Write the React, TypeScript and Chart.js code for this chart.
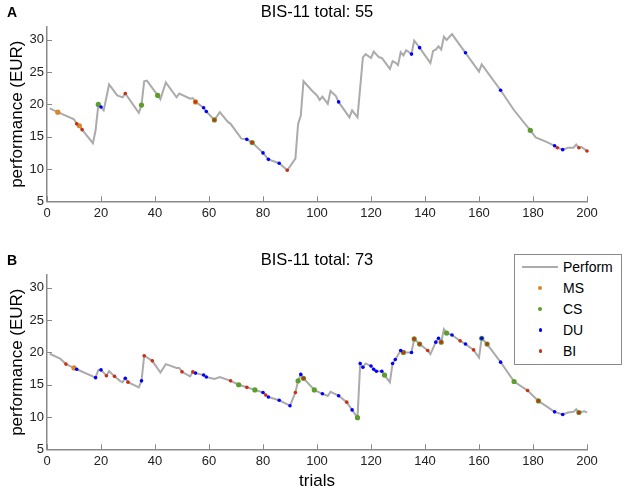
import { useEffect, useRef } from "react";
import Chart from "chart.js/auto";

const FONT = '"Liberation Sans", Arial, Helvetica, sans-serif';
Chart.defaults.font.family = FONT;
Chart.defaults.color = "#222";

// axes
const xTicks = [0, 20, 40, 60, 80, 100, 120, 140, 160, 180, 200];
const yTicks = [5, 10, 15, 20, 25, 30];

// series meta
const seriesNames = ["Perform", "MS", "CS", "DU", "BI"];
const seriesColors = ["#ababab", "#dc862c", "#5c9e2e", "#0000ff", "#cc2e12"];

// ---- panel A (BIS-11 total: 55)
const perfTrialsA = [1, 4, 10, 11, 12, 13, 17, 18, 19, 20, 21, 23, 26, 28, 29, 34, 35, 36, 37, 41, 42, 44, 48, 49, 53, 54, 55, 58, 59, 62, 64, 67, 68, 72, 74, 76, 80, 82, 86, 89, 92, 93, 94, 95, 98, 100, 101, 102, 104, 105, 107, 108, 112, 113, 115, 117, 118, 120, 121, 123, 124, 127, 128, 129, 130, 131, 132, 133, 135, 136, 138, 142, 143, 144, 145, 146, 147, 148, 150, 155, 160, 161, 168, 173, 179, 181, 185, 188, 189, 191, 193, 195, 196, 197, 198, 200];
const perfValuesA = [19.4, 18.8, 17.7, 17.0, 16.7, 16.1, 14.0, 16.0, 19.9, 19.6, 19.1, 23.1, 21.4, 21.1, 21.7, 18.7, 19.9, 23.6, 23.7, 21.4, 20.8, 23.4, 21.1, 21.7, 20.9, 21.0, 20.4, 19.5, 18.9, 17.6, 18.8, 17.3, 17.0, 14.7, 14.6, 14.1, 12.5, 11.5, 10.9, 9.8, 11.6, 17.0, 18.3, 23.6, 22.2, 21.4, 20.7, 21.2, 20.1, 22.1, 21.3, 20.4, 18.0, 19.1, 18.0, 27.3, 27.8, 27.2, 28.2, 27.3, 27.2, 25.5, 26.7, 26.5, 26.1, 28.1, 27.6, 28.4, 27.8, 29.9, 28.8, 26.4, 28.3, 28.5, 29.0, 28.5, 30.5, 30.0, 30.9, 28.0, 25.1, 26.2, 22.2, 19.1, 16.0, 14.9, 14.2, 13.6, 13.3, 13.0, 13.3, 13.3, 13.8, 13.3, 13.4, 12.8];
const msTrialsA = [4, 12, 55];
const msValuesA = [18.8, 16.7, 20.4];
const csTrialsA = [19, 35, 41, 62, 76, 179];
const csValuesA = [20.0, 19.9, 21.4, 17.6, 14.1, 16.0];
const duTrialsA = [20, 58, 59, 74, 80, 82, 86, 108, 135, 138, 155, 168, 188, 191];
const duValuesA = [19.6, 19.5, 18.9, 14.6, 12.5, 11.5, 10.9, 20.4, 27.8, 28.8, 28.0, 22.2, 13.6, 13.0];
const biTrialsA = [11, 13, 29, 55, 62, 76, 89, 189, 197, 200];
const biValuesA = [17.0, 16.1, 21.7, 20.4, 17.6, 14.1, 9.8, 13.3, 13.3, 12.8];

// ---- panel B (BIS-11 total: 73)
const perfTrialsB = [1, 5, 7, 10, 11, 18, 19, 20, 22, 23, 25, 27, 28, 29, 30, 34, 35, 36, 39, 42, 44, 48, 49, 50, 53, 54, 55, 58, 59, 62, 64, 68, 71, 74, 77, 80, 81, 82, 86, 90, 92, 93, 94, 95, 99, 102, 104, 105, 108, 111, 113, 115, 116, 117, 118, 120, 121, 122, 124, 125, 127, 128, 129, 131, 132, 135, 136, 138, 141, 142, 144, 145, 146, 147, 148, 150, 153, 155, 158, 160, 161, 163, 168, 173, 178, 182, 188, 191, 193, 195, 196, 197, 199, 200];
const perfValuesB = [19.8, 19.0, 18.2, 17.6, 17.4, 16.1, 17.3, 17.3, 16.4, 17.1, 16.3, 15.6, 15.4, 16.0, 15.4, 14.6, 15.6, 19.5, 18.7, 16.9, 18.2, 17.6, 17.6, 17.0, 16.3, 17.0, 16.8, 16.5, 16.2, 15.9, 16.2, 15.6, 15.0, 14.6, 14.2, 13.8, 13.4, 13.1, 12.6, 11.75, 13.8, 15.6, 16.6, 16.0, 14.2, 13.6, 13.25, 13.9, 13.3, 12.3, 11.1, 9.9, 18.3, 17.7, 18.3, 17.9, 17.4, 17.1, 17.1, 16.5, 15.4, 18.3, 18.9, 20.3, 20.0, 20.0, 22.1, 21.3, 20.3, 19.75, 21.6, 22.2, 21.6, 23.6, 23.0, 22.7, 21.8, 21.3, 20.4, 19.2, 22.2, 21.3, 18.5, 15.5, 14.1, 12.5, 10.8, 10.4, 10.7, 10.8, 11.2, 10.7, 10.9, 10.7];
const msTrialsB = [10];
const msValuesB = [17.6];
const csTrialsB = [71, 77, 93, 95, 99, 115, 125, 132, 136, 138, 146, 148, 161, 163, 173, 182, 197];
const csValuesB = [15.0, 14.2, 15.6, 16.0, 14.2, 9.9, 16.5, 20.0, 22.1, 21.3, 21.6, 23.0, 22.2, 21.3, 15.5, 12.5, 10.7];
const duTrialsB = [11, 18, 20, 29, 35, 55, 58, 59, 80, 82, 86, 90, 94, 102, 108, 113, 116, 117, 120, 121, 122, 124, 128, 129, 131, 135, 144, 145, 150, 155, 161, 168, 188, 191];
const duValuesB = [17.4, 16.1, 17.3, 16.0, 15.6, 16.8, 16.5, 16.2, 13.8, 13.1, 12.6, 11.75, 16.6, 13.6, 13.3, 11.1, 18.3, 17.7, 17.9, 17.4, 17.1, 17.1, 18.3, 18.9, 20.3, 20.0, 21.6, 22.2, 22.7, 21.3, 22.2, 18.5, 10.8, 10.4];
const biTrialsB = [7, 22, 25, 30, 36, 39, 50, 54, 68, 74, 81, 92, 95, 111, 132, 136, 138, 141, 146, 153, 158, 163, 178, 182, 197];
const biValuesB = [18.2, 16.4, 16.3, 15.4, 19.5, 18.7, 17.0, 17.0, 15.6, 14.6, 13.4, 13.8, 16.0, 12.3, 20.0, 22.1, 21.3, 20.3, 21.6, 21.8, 20.4, 21.3, 14.1, 12.5, 10.7];

const AXIS = "#8a8a8a";
const pts = (xs: number[], ys: number[]) => xs.map((x, i) => ({ x, y: ys[i] }));

// inward tick marks + panel letter + title
const panelDecor = {
  id: "panelDecor",
  afterDraw(chart: any, _args: any, opts: any) {
    const { ctx, chartArea: a, scales } = chart;
    const x = scales.x, y = scales.y;
    ctx.save();
    ctx.strokeStyle = AXIS;
    ctx.lineWidth = 1;
    ctx.beginPath();
    x.ticks.forEach((t: any) => {
      const px = Math.round(x.getPixelForValue(t.value)) + 0.5;
      ctx.moveTo(px, a.bottom);
      ctx.lineTo(px, a.bottom - 5);
    });
    y.ticks.forEach((t: any) => {
      const py = Math.round(y.getPixelForValue(t.value)) + 0.5;
      ctx.moveTo(a.left, py);
      ctx.lineTo(a.left + 5, py);
    });
    ctx.stroke();
    ctx.fillStyle = "#000";
    ctx.textBaseline = "alphabetic";
    ctx.textAlign = "left";
    ctx.font = `bold 14px ${FONT}`;
    ctx.fillText(opts.letter, 7, opts.baseline);
    ctx.textAlign = "center";
    ctx.font = `16.5px ${FONT}`;
    ctx.fillText(opts.title, (a.left + a.right) / 2, opts.baseline);
    ctx.restore();
  },
};

type Series = { x: number[]; y: number[] }[];

function Panel({ letter, title, series, top, height, areaTop, xAxisH, showXTitle }: {
  letter: string; title: string; series: Series; top: number; height: number;
  areaTop: number; xAxisH: number; showXTitle: boolean;
}) {
  const ref = useRef<HTMLCanvasElement>(null);

  useEffect(() => {
    if (!ref.current) return;
    const radii = [0, 2.6, 2.6, 1.8, 1.8];
    const datasets: any[] = series.map((s, i) => ({
      label: seriesNames[i],
      data: pts(s.x, s.y),
      borderColor: seriesColors[i],
      backgroundColor: seriesColors[i],
      borderWidth: i === 0 ? 2 : 0,
      showLine: i === 0,
      pointRadius: radii[i],
      pointBorderWidth: 0,
      pointBackgroundColor: seriesColors[i],
      tension: 0,
      order: 5 - i,
      clip: false,
    }));

    const chart = new Chart(ref.current, {
      type: "line",
      data: { datasets },
      options: {
        animation: false,
        responsive: false,
        events: [],
        layout: { padding: { left: 0, top: areaTop, right: 37, bottom: 0 } },
        plugins: {
          legend: { display: false },
          tooltip: { enabled: false },
          panelDecor: { letter, title, baseline: areaTop - 10.5 },
        } as any,
        scales: {
          x: {
            type: "linear",
            min: 0,
            max: 200,
            afterBuildTicks: (s: any) => { s.ticks = xTicks.map((v) => ({ value: v })); },
            afterFit: (s: any) => { s.height = xAxisH; },
            ticks: { padding: 4, font: { size: 13 }, color: "#222", maxRotation: 0, autoSkip: false },
            grid: { display: false, drawTicks: false },
            border: { display: true, color: AXIS, width: 1.5 },
            title: {
              display: showXTitle,
              text: "trials",
              font: { size: 17, lineHeight: 1 },
              color: "#000",
              padding: 0,
            },
          },
          y: {
            type: "linear",
            min: 5,
            max: 32,
            afterBuildTicks: (s: any) => { s.ticks = yTicks.map((v) => ({ value: v })); },
            afterFit: (s: any) => { s.width = 47; },
            ticks: { padding: 3, font: { size: 13 }, color: "#222" },
            grid: { display: false, drawTicks: false },
            border: { display: true, color: AXIS, width: 1.5 },
            title: {
              display: true,
              text: "performance (EUR)",
              font: { size: 17 },
              color: "#000",
              padding: { top: 7, bottom: 0 },
            },
          },
        },
      },
      plugins: [panelDecor],
    });
    return () => chart.destroy();
  }, []);

  return (
    <canvas
      ref={ref}
      width={624}
      height={height}
      style={{ position: "absolute", left: 0, top, display: "block" }}
    />
  );
}

function Legend() {
  const rowCenters = [12, 33, 54, 75, 96];
  const dotSize = [0, 4, 4, 3.5, 3.5];
  return (
    <div
      style={{
        position: "absolute", left: 514, top: 254, width: 106, height: 109,
        border: `1px solid ${AXIS}`, background: "#fff", fontFamily: FONT, fontSize: 14, color: "#000",
      }}
    >
      {seriesNames.map((name, i) => (
        <div key={name} style={{ position: "absolute", left: 0, top: rowCenters[i] - 10, width: 106, height: 20 }}>
          {i === 0 ? (
            <div style={{ position: "absolute", left: 7, top: 9, width: 36, height: 0, borderTop: `2px solid ${seriesColors[0]}` }} />
          ) : (
            <div
              style={{
                position: "absolute", left: 25.3 - dotSize[i] / 2, top: 10 - dotSize[i] / 2,
                width: dotSize[i], height: dotSize[i], borderRadius: "50%", background: seriesColors[i],
              }}
            />
          )}
          <div style={{ position: "absolute", left: 48, top: 0, lineHeight: "20px" }}>{name}</div>
        </div>
      ))}
    </div>
  );
}

export default function App() {
  const seriesA: Series = [
    { x: perfTrialsA, y: perfValuesA },
    { x: msTrialsA, y: msValuesA },
    { x: csTrialsA, y: csValuesA },
    { x: duTrialsA, y: duValuesA },
    { x: biTrialsA, y: biValuesA },
  ];
  const seriesB: Series = [
    { x: perfTrialsB, y: perfValuesB },
    { x: msTrialsB, y: msValuesB },
    { x: csTrialsB, y: csValuesB },
    { x: duTrialsB, y: duValuesB },
    { x: biTrialsB, y: biValuesB },
  ];
  return (
    <div style={{ position: "fixed", left: 0, top: 0, width: 624, height: 490, background: "#fff", overflow: "hidden" }}>
      <Panel letter="A" title="BIS-11 total: 55" series={seriesA} top={0} height={240} areaTop={27} xAxisH={38.7} showXTitle={false} />
      <Panel letter="B" title="BIS-11 total: 73" series={seriesB} top={240} height={250} areaTop={35} xAxisH={40.7} showXTitle={true} />
      <Legend />
    </div>
  );
}
